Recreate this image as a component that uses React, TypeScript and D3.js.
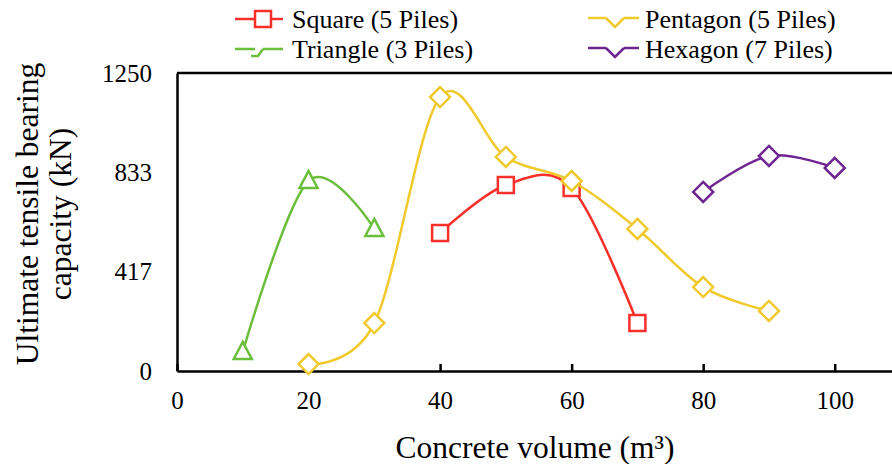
import React, { useRef, useEffect } from 'react';
import * as d3 from 'd3';

// values
const triangleX = [10, 20, 30];
const triangleY = [80, 797, 596];
const squareX = [40, 50, 60, 70];
const squareY = [579, 780, 768, 201];
const pentagonX = [20, 30, 40, 50, 60, 70, 80, 90];
const pentagonY = [29, 201, 1149, 898, 797, 596, 352, 252];
const hexagonX = [80, 90, 100];
const hexagonY = [751, 902, 852];

const xTicks = [0, 20, 40, 60, 80, 100];
const yTicks = [0, 417, 833, 1250];

const FONT = "'Liberation Serif', 'Times New Roman', serif";

const series = [
  { name: 'Square (5 Piles)', xs: squareX, ys: squareY, color: '#F8302A', shape: 'square' },
  { name: 'Pentagon (5 Piles)', xs: pentagonX, ys: pentagonY, color: '#F0C92C', shape: 'diamond' },
  { name: 'Triangle (3 Piles)', xs: triangleX, ys: triangleY, color: '#6BBE3C', shape: 'triangle' },
  { name: 'Hexagon (7 Piles)', xs: hexagonX, ys: hexagonY, color: '#6E2590', shape: 'diamond' },
];

function markerPath(shape: string) {
  if (shape === 'square') return 'M-8,-8H8V8H-8Z';
  if (shape === 'triangle') return 'M0,-10L9,7H-9Z';
  return 'M0,-10L10,0L0,10L-10,0Z';
}

export default function App() {
  const svgRef = useRef<SVGSVGElement>(null);

  useEffect(() => {
    const W = 892, H = 464;
    const svg = d3.select(svgRef.current).attr('width', W).attr('height', H)
      .style('font-family', FONT);
    svg.selectAll('*').remove();

    const x = d3.scaleLinear().domain([0, 110]).range([177, 900.5]);
    const y = d3.scaleLinear().domain([0, 1250]).range([371, 73]);

    // plot frame (top border + axes)
    svg.append('line')
      .attr('x1', 177).attr('x2', W).attr('y1', y(1250)).attr('y2', y(1250))
      .attr('stroke', '#000').attr('stroke-width', 2.5);

    const gx = svg.append('g').attr('transform', `translate(0,${y(0)})`)
      .call(d3.axisBottom(x).tickValues(xTicks).tickFormat(d3.format('d'))
        .tickSize(-7).tickSizeOuter(0).tickPadding(20));
    gx.attr('font-family', null).attr('font-size', null);
    gx.select('.domain').attr('stroke-width', 2.5);
    gx.selectAll('.tick line').attr('stroke-width', 2.5);
    gx.selectAll('text').style('font-family', FONT).style('font-size', '25px').attr('fill', '#000');

    const gy = svg.append('g').attr('transform', `translate(${x(0)},0)`)
      .call(d3.axisLeft(y).tickValues(yTicks).tickFormat(d3.format('d'))
        .tickSize(0).tickSizeOuter(0).tickPadding(25));
    gy.attr('font-family', null).attr('font-size', null);
    gy.select('.domain').attr('stroke-width', 2.5);
    gy.selectAll('text').style('font-family', FONT).style('font-size', '25px').attr('fill', '#000');

    // series
    const line = d3.line<[number, number]>()
      .x(d => x(d[0])).y(d => y(d[1]))
      .curve(d3.curveCardinal.tension(0));

    series.forEach(s => {
      const pts: [number, number][] = s.xs.map((v, i) => [v, s.ys[i]]);
      svg.append('path')
        .attr('d', line(pts))
        .attr('fill', 'none').attr('stroke', s.color).attr('stroke-width', 2.5);
      svg.append('g').selectAll('path').data(pts).join('path')
        .attr('transform', d => `translate(${x(d[0])},${y(d[1])})`)
        .attr('d', markerPath(s.shape))
        .attr('fill', '#fff').attr('stroke', s.color).attr('stroke-width', 2.5);
    });

    // legend
    const legendPos = [
      { lx: 235, ty: 19 }, { lx: 588, ty: 19 },
      { lx: 235, ty: 49 }, { lx: 588, ty: 49 },
    ];
    series.forEach((s, i) => {
      const p = legendPos[i];
      const g = svg.append('g').attr('transform', `translate(${p.lx},${p.ty})`);
      const cx = s.shape === 'diamond' ? 27 : 28;
      if (s.shape === 'square') {
        g.append('line').attr('x1', 0).attr('x2', 48).attr('y1', 0).attr('y2', 0)
          .attr('stroke', s.color).attr('stroke-width', 2.5);
        g.append('path').attr('transform', `translate(${cx},0)`).attr('d', markerPath('square'))
          .attr('fill', '#fff').attr('stroke', s.color).attr('stroke-width', 2.5);
      } else if (s.shape === 'diamond') {
        g.append('line').attr('x1', 0).attr('x2', cx - 9).attr('y1', -1).attr('y2', -1)
          .attr('stroke', s.color).attr('stroke-width', 2.5);
        g.append('line').attr('x1', cx + 9).attr('x2', 51).attr('y1', -1).attr('y2', -1)
          .attr('stroke', s.color).attr('stroke-width', 2.5);
        g.append('path').attr('transform', `translate(${cx},-1)`).attr('d', 'M-9,0L0,9L9,0')
          .attr('fill', 'none').attr('stroke', s.color).attr('stroke-width', 2.5);
      } else {
        g.append('line').attr('x1', 0).attr('x2', 20).attr('y1', 0).attr('y2', 0)
          .attr('stroke', s.color).attr('stroke-width', 2.5);
        g.append('line').attr('x1', 28).attr('x2', 48).attr('y1', 0).attr('y2', 0)
          .attr('stroke', s.color).attr('stroke-width', 2.5);
        g.append('path').attr('d', 'M28,0L23,7H16')
          .attr('fill', 'none').attr('stroke', s.color).attr('stroke-width', 2.5);
      }
      svg.append('text')
        .attr('x', p.lx + 57).attr('y', p.ty)
        .attr('dy', '0.35em')
        .style('font-family', FONT).style('font-size', '26px').attr('fill', '#000')
        .text(s.name);
    });

    // axis titles
    svg.append('text')
      .attr('x', 535).attr('y', 447).attr('dy', '0.35em').attr('text-anchor', 'middle')
      .style('font-family', FONT).style('font-size', '31.5px').attr('fill', '#000')
      .text('Concrete volume (m³)');

    const yt = svg.append('text')
      .attr('transform', 'translate(27,214) rotate(-90)')
      .attr('text-anchor', 'middle')
      .style('font-family', FONT).style('font-size', '31.5px').attr('fill', '#000');
    yt.append('tspan').attr('x', 0).attr('dy', '0.35em').text('Ultimate tensile bearing');
    yt.append('tspan').attr('x', 0).attr('dy', 33).text('capacity (kN)');
  }, []);

  return (
    <svg
      ref={svgRef}
      style={{ position: 'absolute', left: 0, top: 0, display: 'block', background: '#fff' }}
    />
  );
}
